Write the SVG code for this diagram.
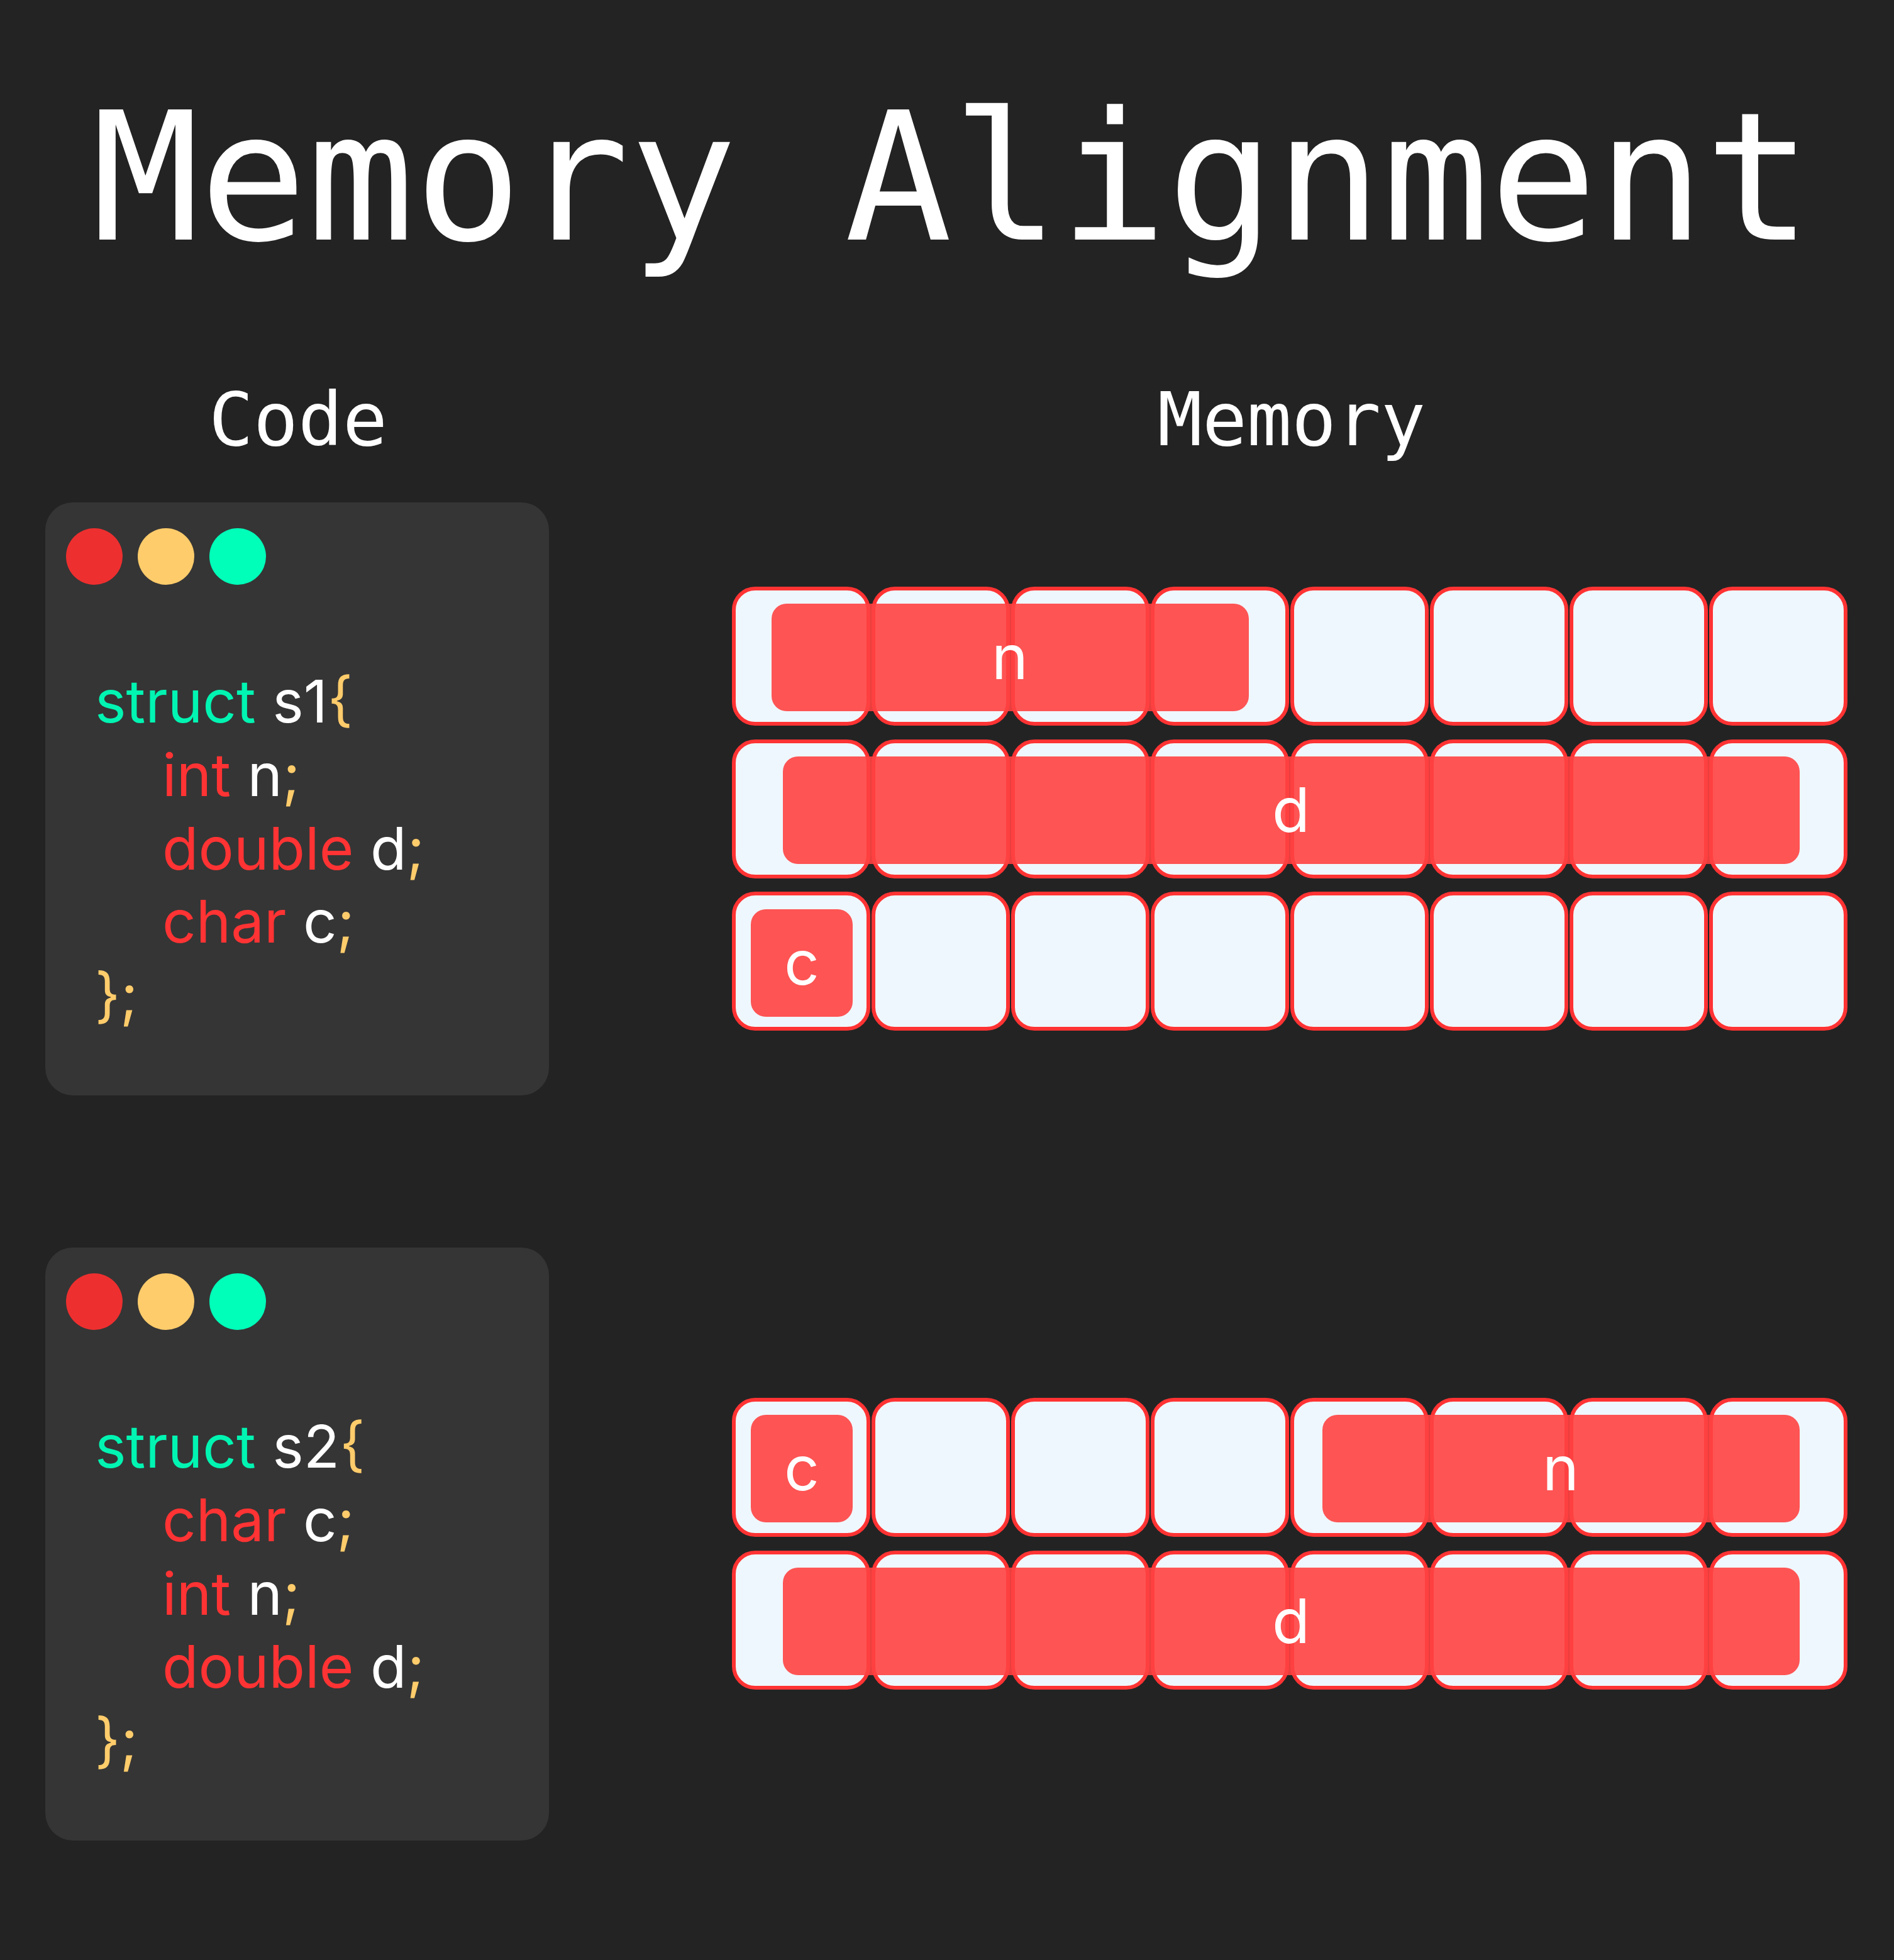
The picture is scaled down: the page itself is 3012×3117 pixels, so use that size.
<svg xmlns="http://www.w3.org/2000/svg" width="3012" height="3117" viewBox="0 0 3012 3117">
<style>
.title{font-family:"DejaVu Sans Mono","Liberation Mono",monospace;fill:#ffffff}
.code{font-family:Inter,"Noto Sans",sans-serif;font-size:94px}
.kw{fill:#00F5B2}
.ty{fill:#FF3333}
.wh{fill:#ffffff}
.pu{fill:#FFCC6B}
.panel{fill:#353535}
.cell{fill:#EFF7FE;stroke:#FF3333;stroke-width:6}
.blk{fill:#FF4141;opacity:0.9}
.lbl{font-family:Inter,"Noto Sans",sans-serif;font-size:98px;fill:#ffffff;text-anchor:middle}
</style>
<rect x="0" y="0" width="3012" height="3117" fill="#232323"/>
<g id="title"><text class="title" x="1514" y="381" font-size="284" text-anchor="middle">Memory Alignment</text></g>
<g id="label-code"><text class="title" x="474" y="708" font-size="118" text-anchor="middle">Code</text></g>
<g id="label-memory"><text class="title" x="2054" y="708" font-size="118" text-anchor="middle">Memory</text></g>

<g id="code-s1">
<rect class="panel" x="72" y="799" width="801" height="943" rx="44"/>
<circle cx="150" cy="885" r="45" fill="#EE2F2F"/>
<circle cx="264" cy="885" r="45" fill="#FFCC6B"/>
<circle cx="378" cy="885" r="45" fill="#00FFB9"/>
<text class="code" x="151" y="1149"><tspan class="kw">struct</tspan><tspan class="wh"> s1</tspan><tspan class="pu">{</tspan></text>
<text class="code" x="258" y="1266"><tspan class="ty">int</tspan><tspan class="wh"> n</tspan><tspan class="pu">;</tspan></text>
<text class="code" x="258" y="1383"><tspan class="ty">double</tspan><tspan class="wh"> d</tspan><tspan class="pu">;</tspan></text>
<text class="code" x="258" y="1499"><tspan class="ty">char</tspan><tspan class="wh"> c</tspan><tspan class="pu">;</tspan></text>
<text class="code" x="151" y="1616"><tspan class="pu">};</tspan></text>
</g>

<g id="code-s2">
<rect class="panel" x="72" y="1984" width="801" height="943" rx="44"/>
<circle cx="150" cy="2070" r="45" fill="#EE2F2F"/>
<circle cx="264" cy="2070" r="45" fill="#FFCC6B"/>
<circle cx="378" cy="2070" r="45" fill="#00FFB9"/>
<text class="code" x="151" y="2334"><tspan class="kw">struct</tspan><tspan class="wh"> s2</tspan><tspan class="pu">{</tspan></text>
<text class="code" x="258" y="2451"><tspan class="ty">char</tspan><tspan class="wh"> c</tspan><tspan class="pu">;</tspan></text>
<text class="code" x="258" y="2568"><tspan class="ty">int</tspan><tspan class="wh"> n</tspan><tspan class="pu">;</tspan></text>
<text class="code" x="258" y="2684"><tspan class="ty">double</tspan><tspan class="wh"> d</tspan><tspan class="pu">;</tspan></text>
<text class="code" x="151" y="2801"><tspan class="pu">};</tspan></text>
</g>

<defs>
<g id="row">
<rect class="cell" x="1167" y="0" width="214" height="215" rx="34"/>
<rect class="cell" x="1389" y="0" width="214" height="215" rx="34"/>
<rect class="cell" x="1611" y="0" width="214" height="215" rx="34"/>
<rect class="cell" x="1833" y="0" width="214" height="215" rx="34"/>
<rect class="cell" x="2055" y="0" width="214" height="215" rx="34"/>
<rect class="cell" x="2277" y="0" width="214" height="215" rx="34"/>
<rect class="cell" x="2499" y="0" width="214" height="215" rx="34"/>
<rect class="cell" x="2721" y="0" width="214" height="215" rx="34"/>
</g>
</defs>

<g id="mem-s1">
<g id="s1-row1"><use href="#row" y="936"/></g>
<g id="s1-row2"><use href="#row" y="1179"/></g>
<g id="s1-row3"><use href="#row" y="1421"/></g>
<g id="s1-n"><rect class="blk" x="1227" y="960" width="759" height="171" rx="24"/><text class="lbl" x="1606" y="1080">n</text></g>
<g id="s1-d"><rect class="blk" x="1245" y="1203" width="1617" height="171" rx="24"/><text class="lbl" x="2053" y="1323">d</text></g>
<g id="s1-c"><rect class="blk" x="1194" y="1446" width="162" height="171" rx="24"/><text class="lbl" x="1275" y="1566">c</text></g>
</g>

<g id="mem-s2">
<g id="s2-row1"><use href="#row" y="2226"/></g>
<g id="s2-row2"><use href="#row" y="2469"/></g>
<g id="s2-c"><rect class="blk" x="1194" y="2250" width="162" height="171" rx="24"/><text class="lbl" x="1275" y="2370">c</text></g>
<g id="s2-n"><rect class="blk" x="2103" y="2250" width="759" height="171" rx="24"/><text class="lbl" x="2482" y="2370">n</text></g>
<g id="s2-d"><rect class="blk" x="1245" y="2493" width="1617" height="171" rx="24"/><text class="lbl" x="2053" y="2613">d</text></g>
</g>
</svg>
